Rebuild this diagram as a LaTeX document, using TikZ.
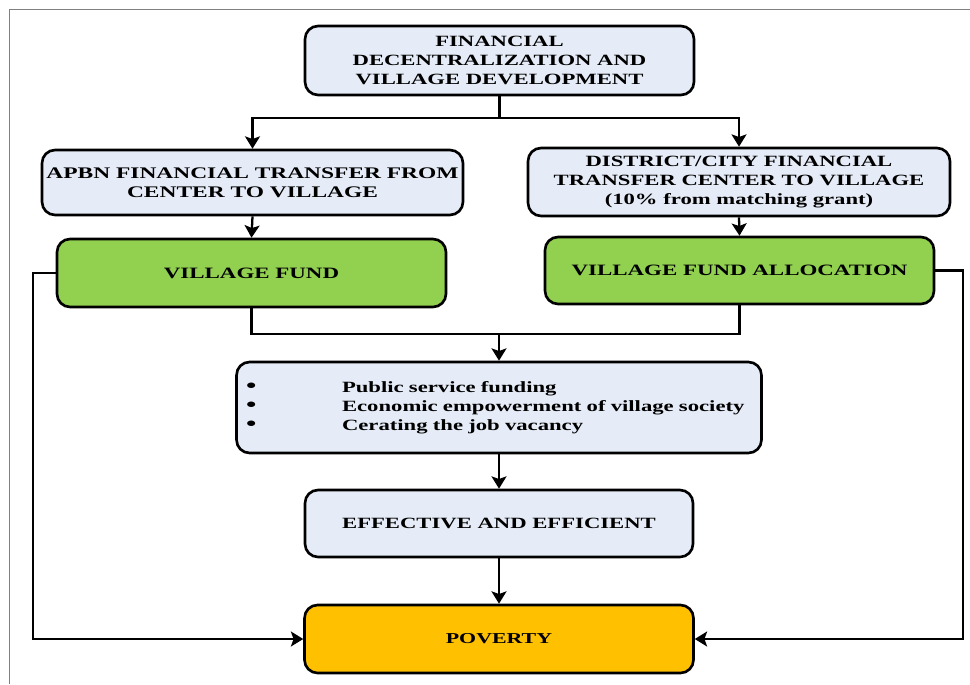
\documentclass[tikz,border=0pt]{standalone}
\usepackage{fontspec}
\setmainfont{Liberation Serif}[FakeStretch=1.45]
\usetikzlibrary{arrows.meta}
\definecolor{boxblue}{HTML}{E6ECF7}
\definecolor{boxgreen}{HTML}{92D050}
\definecolor{boxorange}{HTML}{FFC000}
\definecolor{framegray}{HTML}{808080}
\newcommand{\bigdot}{\makebox[1.92cm][l]{\smash{\scalebox{1.3}{\textbullet}}}}
\tikzset{
  fbox/.style={draw=black, line width=1.5pt, rounded corners=0.26cm, inner sep=0pt,
    align=center, font=\bfseries\fontsize{8.9}{10.8}\selectfont},
  bluebox/.style={fbox, fill=boxblue},
  greenbox/.style={fbox, fill=boxgreen, font=\bfseries\fontsize{9}{10.8}\selectfont},
  orangebox/.style={fbox, fill=boxorange, font=\bfseries\fontsize{8.6}{10.8}\selectfont},
  conn/.style={line width=1.3pt, draw=black},
  arr/.style={conn, -{Stealth[length=7pt,width=8.5pt,inset=1.5pt]}},
}
\begin{document}
\begin{tikzpicture}[x=0.02cm,y=-0.02cm]
\useasboundingbox (0,0) rectangle (970,684);
\draw[framegray, line width=0.6pt] (9.5,684) -- (9.5,9.5) -- (970,9.5);

\node[bluebox, minimum width=7.78cm, minimum height=1.38cm] (top) at (499.5,60.5)
  {FINANCIAL\\DECENTRALIZATION AND\\VILLAGE DEVELOPMENT};
\node[bluebox, minimum width=8.42cm, minimum height=1.30cm, font=\bfseries\fontsize{9.2}{10.8}\selectfont] (apbn) at (252.5,182.5)
  {APBN FINANCIAL TRANSFER FROM\\CENTER TO VILLAGE};
\node[bluebox, minimum width=8.44cm, minimum height=1.36cm] (dist) at (739,182)
  {DISTRICT/CITY FINANCIAL\\TRANSFER CENTER TO VILLAGE\\(10\% from matching grant)};
\node[greenbox, minimum width=7.78cm, minimum height=1.36cm] (vf) at (251.5,273)
  {VILLAGE FUND};
\node[greenbox, minimum width=7.78cm, minimum height=1.34cm] (vfa) at (739.5,270.5)
  {VILLAGE FUND ALLOCATION};
\node[bluebox, minimum width=10.5cm, minimum height=1.82cm, align=left, text width=10.12cm] (bul) at (499,407.5)
  {\bigdot Public service funding\\
   \bigdot Economic empowerment of village society\\
   \bigdot Cerating the job vacancy};
\node[bluebox, minimum width=7.76cm, minimum height=1.34cm] (ee) at (499,523.5)
  {EFFECTIVE AND EFFICIENT};
\node[orangebox, minimum width=7.78cm, minimum height=1.36cm] (pov) at (499,639)
  {POVERTY};

\coordinate (j1) at (499.5,118);
\coordinate (j2) at (499,334);
\coordinate (lc) at (33,273);
\coordinate (rc) at (963,270.5);

\draw[conn] (top.south) -- (j1);
\draw[arr] (j1) -| (apbn.north);
\draw[arr] (j1) -| (dist.north);
\draw[arr] (apbn.south) -- (vf.north);
\draw[arr] (dist.south) -- (vfa.north);
\draw[conn] (vf.south) |- (j2) -| (vfa.south);
\draw[arr] (j2) -- (bul.north);
\draw[arr] (bul.south) -- (ee.north);
\draw[arr] (ee.south) -- (pov.north);
\draw[arr] (vf.west) -- (lc) |- (pov.west);
\draw[arr] (vfa.east) -- (rc) |- (pov.east);
\end{tikzpicture}
\end{document}
